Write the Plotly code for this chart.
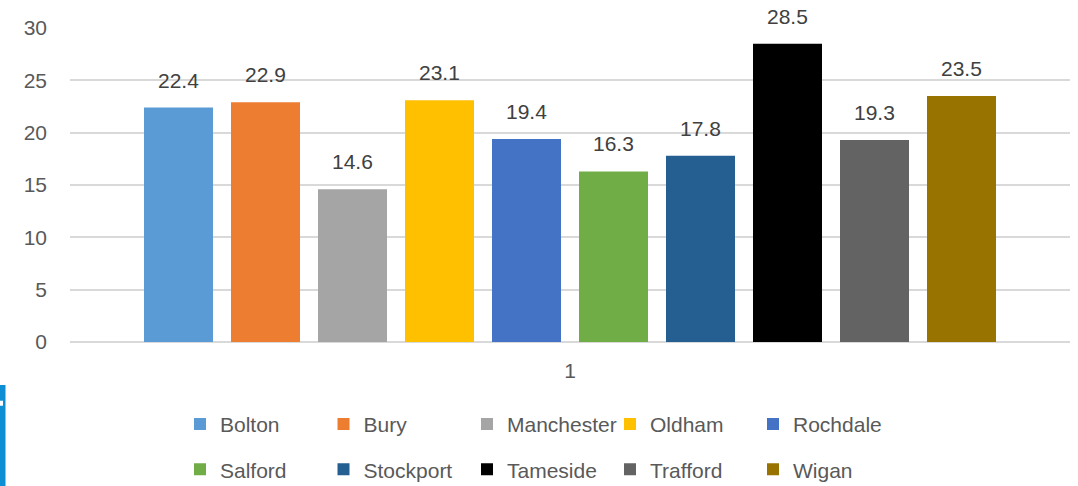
import plotly.graph_objects as go

# Series data: one category, one bar per borough
category = ["1"]
boroughs = ["Bolton", "Bury", "Manchester", "Oldham", "Rochdale",
            "Salford", "Stockport", "Tameside", "Trafford", "Wigan"]
values = [22.4, 22.9, 14.6, 23.1, 19.4, 16.3, 17.8, 28.5, 19.3, 23.5]
colors = ["#5B9BD5", "#ED7D31", "#A5A5A5", "#FFC000", "#4472C4",
          "#70AD47", "#255E91", "#000000", "#636363", "#997300"]
y_ticks = [0, 5, 10, 15, 20, 25, 30]

FONT = "Liberation Sans, Arial, sans-serif"
AXIS_GRAY = "#595959"
LABEL_GRAY = "#404040"
BARGAP = 0.13
BARGROUPGAP = 0.207

# Legend columns (two rows of five): left edge in paper units
legend_x = [0.110, 0.2535, 0.397, 0.540, 0.683]

fig = go.Figure()
n = len(boroughs)
for i, (name, val, col) in enumerate(zip(boroughs, values, colors)):
    col_idx = i % 5
    legend_name = "legend" if col_idx == 0 else f"legend{col_idx + 1}"
    fig.add_trace(go.Bar(
        x=category, y=[val], name=name, marker_color=col,
        marker_line_width=0, legend=legend_name, legendgroup=name,
        hoverinfo="name+y",
    ))

# Value labels above each bar, positioned from the grouped-bar geometry
slot = (1 - BARGAP) / n
annotations = []
for i, val in enumerate(values):
    xpos = -(1 - BARGAP) / 2 + slot * (i + 0.5)
    annotations.append(dict(
        x=xpos, y=val, xref="x", yref="y", text=f"{val}",
        showarrow=False, yanchor="bottom", yshift=14,
        font=dict(family=FONT, size=21, color=LABEL_GRAY),
    ))

layout_legends = {}
for k, lx in enumerate(legend_x):
    key = "legend" if k == 0 else f"legend{k + 1}"
    layout_legends[key] = dict(
        x=lx, y=-0.197, xanchor="left", yanchor="top",
        orientation="v", traceorder="grouped", tracegroupgap=15,
        font=dict(family=FONT, size=21, color=AXIS_GRAY),
        bgcolor="rgba(0,0,0,0)", borderwidth=0,
    )

# Partial blue emblem at the lower-left edge
shapes = [
    dict(type="rect", xref="paper", yref="paper",
         x0=-0.08, x1=-0.0645, y0=-0.46, y1=-0.137,
         fillcolor="#0E8FD3", line_width=0, layer="above"),
    dict(type="rect", xref="paper", yref="paper",
         x0=-0.08, x1=-0.067, y0=-0.203, y1=-0.187,
         fillcolor="#FFFFFF", line_width=0, layer="above"),
]

fig.update_layout(
    width=1078, height=486,
    margin=dict(l=70, r=8, t=28, b=144, autoexpand=False),
    paper_bgcolor="white", plot_bgcolor="white",
    barmode="group", bargap=BARGAP, bargroupgap=BARGROUPGAP,
    showlegend=True,
    annotations=annotations,
    shapes=shapes,
    **layout_legends,
)
fig.update_yaxes(
    range=[0, 30], tickvals=y_ticks, showgrid=True,
    gridcolor="#D9D9D9", gridwidth=1.5,
    zeroline=True, zerolinecolor="#D9D9D9", zerolinewidth=1.5,
    showline=False, ticks="", ticklabelstandoff=22,
    tickfont=dict(family=FONT, size=21, color=AXIS_GRAY),
)
fig.update_xaxes(
    type="category", showgrid=False, showline=False, ticks="",
    ticklabelstandoff=14,
    tickfont=dict(family=FONT, size=21, color=AXIS_GRAY),
)

fig.write_html("out.html")
